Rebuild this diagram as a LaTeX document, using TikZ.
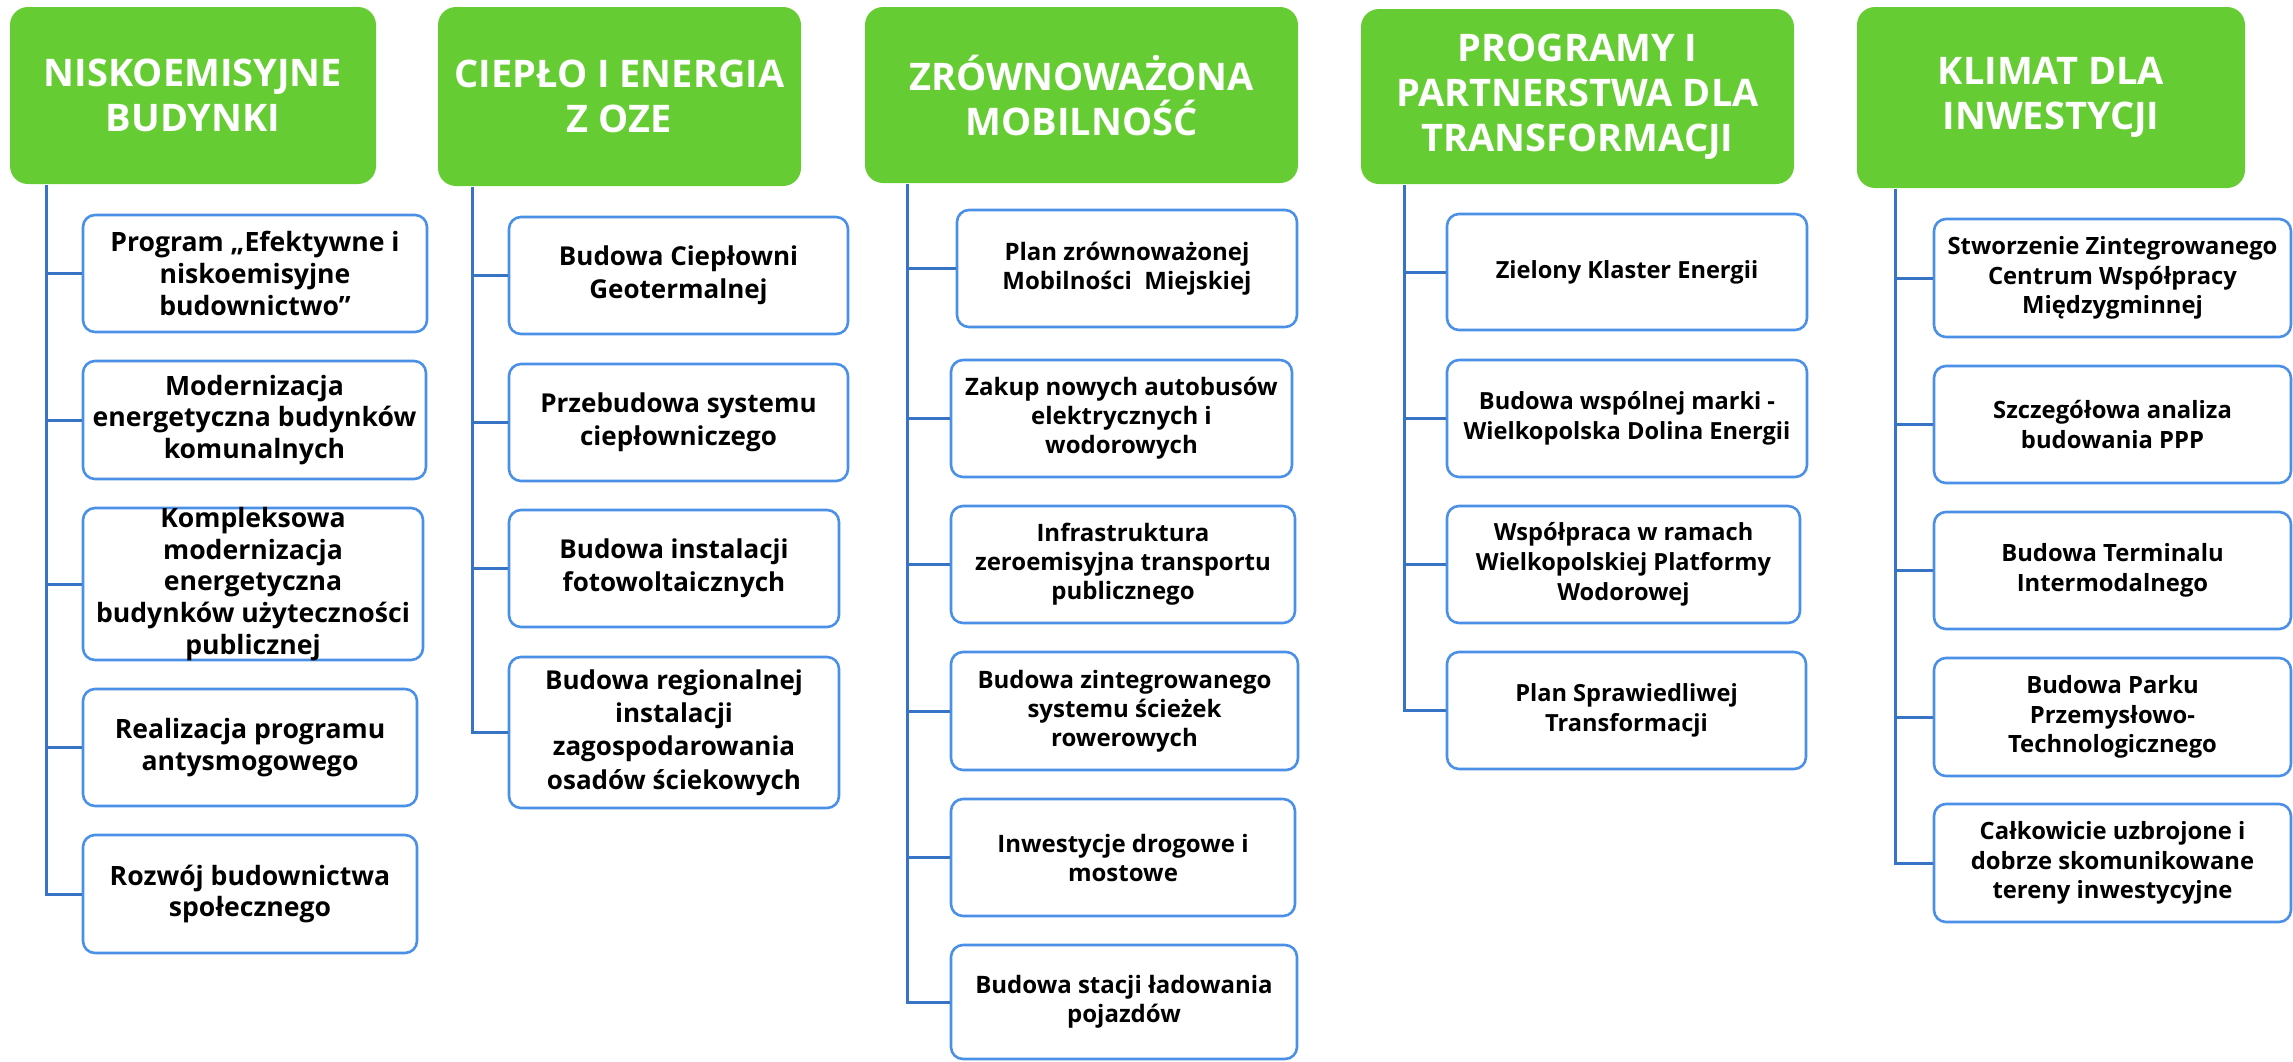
\documentclass[tikz,border=0pt]{standalone}
\usepackage{fontspec}
\setmainfont{Open Sans}
\usetikzlibrary{fit}
\definecolor{hgreen}{HTML}{66CC33}
\definecolor{trunkblue}{HTML}{3874C6}
\definecolor{boxblue}{HTML}{4A90E6}
\tikzset{
  hdr/.style={fill=hgreen, draw=none, rounded corners=9pt, inner sep=0pt},
  hdrtxt/.style={text=white, align=center, font=\fontsize{19}{22.5}\selectfont\bfseries},
  itembox/.style={draw=boxblue, line width=1.3pt, fill=white, rounded corners=6pt, inner sep=0pt},
  trunk/.style={draw=trunkblue, line width=1.5pt},
  ta/.style={align=center, font=\fontsize{13.3}{15.9}\selectfont\bfseries},
  tb/.style={align=center, font=\fontsize{13}{16.6}\selectfont\bfseries},
  tc/.style={align=center, font=\fontsize{12}{14.5}\selectfont\bfseries},
  td/.style={align=center, font=\fontsize{11.8}{15}\selectfont\bfseries},
  te/.style={align=center, font=\fontsize{11.9}{14.8}\selectfont\bfseries},
}
\begin{document}
\begin{tikzpicture}[x=0.5pt,y=-0.5pt]
\useasboundingbox (0,0) rectangle (2293,1061);

% ---------- headers
\node[hdr, fit={(10,7) (376,184)}] (h1) {};
\node[hdrtxt] (h1t) at (h1.center) {NISKOEMISYJNE\\BUDYNKI};
\node[hdr, fit={(438,7) (801,186)}] (h2) {};
\node[hdrtxt] (h2t) at (h2.center) {CIEPŁO I ENERGIA\\Z OZE};
\node[hdr, fit={(865,7) (1298,183)}] (h3) {};
\node[hdrtxt] (h3t) at (h3.center) {ZRÓWNOWAŻONA\\MOBILNOŚĆ};
\node[hdr, fit={(1361,9) (1794,184)}] (h4) {};
\node[hdrtxt] (h4t) at (h4.center) {PROGRAMY I\\PARTNERSTWA DLA\\TRANSFORMACJI};
\node[hdr, fit={(1857,7) (2245,188)}] (h5) {};
\node[hdrtxt] (h5t) at (h5.center) {KLIMAT DLA\\INWESTYCJI};

% ---------- column 1
\node[itembox, fit={(83,215) (427,332)}] (b11) {};
\node[itembox, fit={(83,361) (426,479)}] (b12) {};
\node[itembox, fit={(83,508) (423,660)}] (b13) {};
\node[itembox, fit={(83,689) (417,806)}] (b14) {};
\node[itembox, fit={(83,835) (417,953)}] (b15) {};
\node[ta] (t11) at (b11) {Program „Efektywne i\\niskoemisyjne\\budownictwo”};
\node[ta] (t12) at (b12) {Modernizacja\\energetyczna budynków\\komunalnych};
\node[ta] (t13) at (b13) {Kompleksowa\\modernizacja\\energetyczna\\budynków użyteczności\\publicznej};
\node[ta] (t14) at (b14) {Realizacja programu\\antysmogowego};
\node[ta] (t15) at (b15) {Rozwój budownictwa\\społecznego};
\coordinate (r1) at (46,185);
\draw[trunk] (r1) |- (b15.west);
\foreach \b in {b11,b12,b13,b14} \draw[trunk] (r1 |- \b.west) -- (\b.west);

% ---------- column 2
\node[itembox, fit={(509,217) (848,334)}] (b21) {};
\node[itembox, fit={(509,364) (848,481)}] (b22) {};
\node[itembox, fit={(509,510) (839,627)}] (b23) {};
\node[itembox, fit={(509,657) (839,808)}] (b24) {};
\node[tb] (t21) at (b21) {Budowa Ciepłowni\\Geotermalnej};
\node[tb] (t22) at (b22) {Przebudowa systemu\\ciepłowniczego};
\node[tb] (t23) at (b23) {Budowa instalacji\\fotowoltaicznych};
\node[tb] (t24) at (b24) {Budowa regionalnej\\instalacji\\zagospodarowania\\osadów ściekowych};
\coordinate (r2) at (472,187);
\draw[trunk] (r2) |- (b24.west);
\foreach \b in {b21,b22,b23} \draw[trunk] (r2 |- \b.west) -- (\b.west);

% ---------- column 3
\node[itembox, fit={(957,210) (1297,327)}] (b31) {};
\node[itembox, fit={(951,360) (1292,477)}] (b32) {};
\node[itembox, fit={(951,506) (1295,623)}] (b33) {};
\node[itembox, fit={(951,652) (1298,770)}] (b34) {};
\node[itembox, fit={(951,799) (1295,916)}] (b35) {};
\node[itembox, fit={(951,945) (1297,1059)}] (b36) {};
\node[tc] (t31) at (b31) {Plan zrównoważonej\\Mobilności\ \ Miejskiej};
\node[tc] (t32) at (b32) {Zakup nowych autobusów\\elektrycznych i\\wodorowych};
\node[tc] (t33) at (b33) {Infrastruktura\\zeroemisyjna transportu\\publicznego};
\node[tc] (t34) at (b34) {Budowa zintegrowanego\\systemu ścieżek\\rowerowych};
\node[tc] (t35) at (b35) {Inwestycje drogowe i\\mostowe};
\node[tc] (t36) at (b36) {Budowa stacji ładowania\\pojazdów};
\coordinate (r3) at (907,184);
\draw[trunk] (r3) |- (b36.west);
\foreach \b in {b31,b32,b33,b34,b35} \draw[trunk] (r3 |- \b.west) -- (\b.west);

% ---------- column 4
\node[itembox, fit={(1447,214) (1807,330)}] (b41) {};
\node[itembox, fit={(1447,360) (1807,477)}] (b42) {};
\node[itembox, fit={(1447,506) (1800,623)}] (b43) {};
\node[itembox, fit={(1447,652) (1806,769)}] (b44) {};
\node[td] (t41) at (b41) {Zielony Klaster Energii};
\node[td] (t42) at (b42) {Budowa wspólnej marki -\\Wielkopolska Dolina Energii};
\node[td] (t43) at (b43) {Współpraca w ramach\\Wielkopolskiej Platformy\\Wodorowej};
\node[td] (t44) at (b44) {Plan Sprawiedliwej\\Transformacji};
\coordinate (r4) at (1404,185);
\draw[trunk] (r4) |- (b44.west);
\foreach \b in {b41,b42,b43} \draw[trunk] (r4 |- \b.west) -- (\b.west);

% ---------- column 5
\node[itembox, fit={(1934,219) (2291,337)}] (b51) {};
\node[itembox, fit={(1934,366) (2291,483)}] (b52) {};
\node[itembox, fit={(1934,512) (2291,629)}] (b53) {};
\node[itembox, fit={(1934,658) (2291,776)}] (b54) {};
\node[itembox, fit={(1934,804) (2291,922)}] (b55) {};
\node[te] (t51) at (b51) {Stworzenie Zintegrowanego\\Centrum Współpracy\\Międzygminnej};
\node[te] (t52) at (b52) {Szczegółowa analiza\\budowania PPP};
\node[te] (t53) at (b53) {Budowa Terminalu\\Intermodalnego};
\node[te] (t54) at (b54) {Budowa Parku\\Przemysłowo-\\Technologicznego};
\node[te] (t55) at (b55) {Całkowicie uzbrojone i\\dobrze skomunikowane\\tereny inwestycyjne};
\coordinate (r5) at (1895,189);
\draw[trunk] (r5) |- (b55.west);
\foreach \b in {b51,b52,b53,b54} \draw[trunk] (r5 |- \b.west) -- (\b.west);
\end{tikzpicture}
\end{document}
